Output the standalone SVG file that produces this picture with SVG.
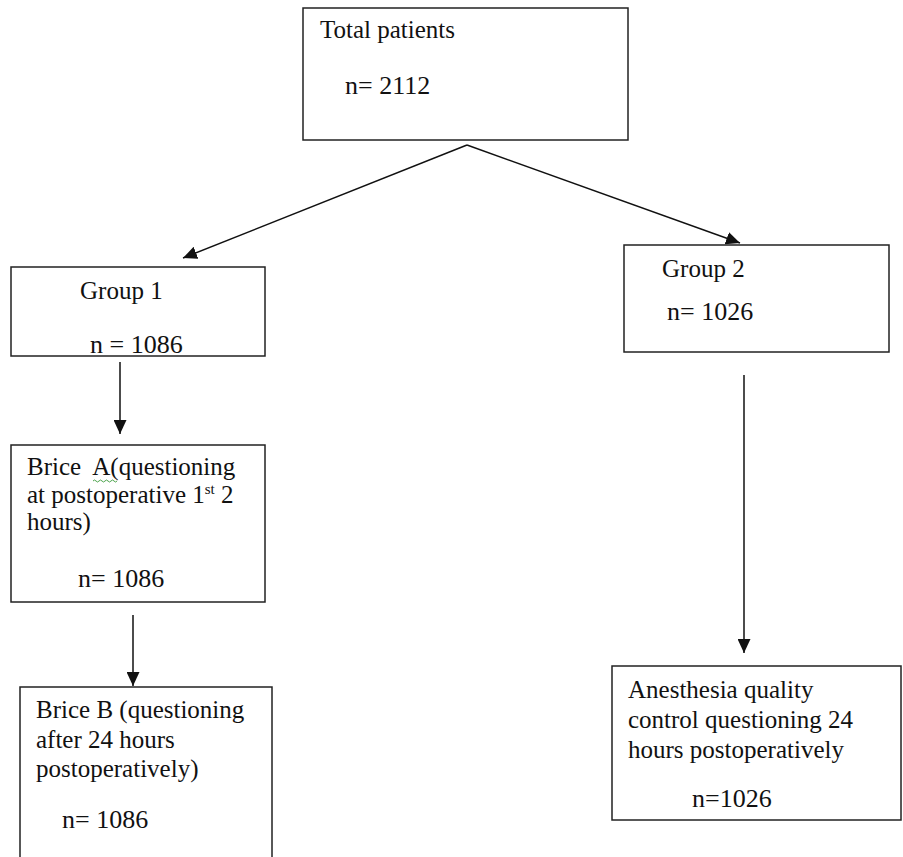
<svg xmlns="http://www.w3.org/2000/svg" width="903" height="857" viewBox="0 0 903 857">
<style>
.box{fill:#fff;stroke:#222;stroke-width:1.5}
.t{font-family:"Liberation Serif","Times New Roman",serif;font-size:25px;fill:#111}
.n{font-family:"Liberation Serif","Times New Roman",serif;font-size:26px;fill:#111}
.sup{font-size:15px}
.c{stroke:#111;stroke-width:1.5;fill:none}
</style>
<defs>
<marker id="ah" markerUnits="userSpaceOnUse" markerWidth="15" markerHeight="13" refX="14" refY="6.5" orient="auto">
<path d="M0,0 L14,6.5 L0,13 z" fill="#111"/>
</marker>
</defs>
<rect width="903" height="857" fill="#fff"/>
<g id="connectors">
<line class="c" x1="467" y1="145" x2="183" y2="258" marker-end="url(#ah)"/>
<line class="c" x1="467" y1="145" x2="740" y2="243" marker-end="url(#ah)"/>
<line class="c" x1="120" y1="362" x2="120" y2="434" marker-end="url(#ah)"/>
<line class="c" x1="133" y1="615" x2="133" y2="686" marker-end="url(#ah)"/>
<line class="c" x1="744" y1="375" x2="744" y2="653" marker-end="url(#ah)"/>
</g>
<g id="total">
<rect class="box" x="303" y="8" width="325" height="132"/>
<text class="t" x="320" y="38">Total patients</text>
<text class="n" x="345" y="94">n= 2112</text>
</g>
<g id="group1">
<rect class="box" x="11" y="267" width="254" height="89"/>
<text class="t" x="80" y="299">Group 1</text>
<text class="n" x="90" y="353">n = 1086</text>
</g>
<g id="briceA">
<rect class="box" x="11" y="445" width="254" height="157"/>
<text class="t" x="27" y="475" xml:space="preserve">Brice  A(questioning</text>
<text class="t" x="27" y="503">at postoperative 1<tspan class="sup" dy="-9">st</tspan><tspan dy="9"> 2</tspan></text>
<text class="t" x="27" y="530">hours)</text>
<text class="n" x="78" y="587">n= 1086</text>
<path d="M93,481 q1.5,-2 3,0 t3,0 t3,0 t3,0 t3,0 t3,0 t3,0 t3,0" fill="none" stroke="#3a9a3a" stroke-width="0.9"/>
</g>
<g id="briceB">
<rect class="box" x="20" y="687" width="252" height="190"/>
<text class="t" x="36" y="718">Brice B (questioning</text>
<text class="t" x="36" y="748">after 24 hours</text>
<text class="t" x="36" y="777">postoperatively)</text>
<text class="n" x="62" y="828">n= 1086</text>
</g>
<g id="group2">
<rect class="box" x="624" y="245" width="265" height="107"/>
<text class="t" x="662" y="277">Group 2</text>
<text class="n" x="667" y="320">n= 1026</text>
</g>
<g id="anesthesia">
<rect class="box" x="612" y="666" width="289" height="154"/>
<text class="t" x="628" y="698">Anesthesia quality</text>
<text class="t" x="628" y="728">control questioning 24</text>
<text class="t" x="628" y="758">hours postoperatively</text>
<text class="n" x="692" y="807">n=1026</text>
</g>
</svg>
